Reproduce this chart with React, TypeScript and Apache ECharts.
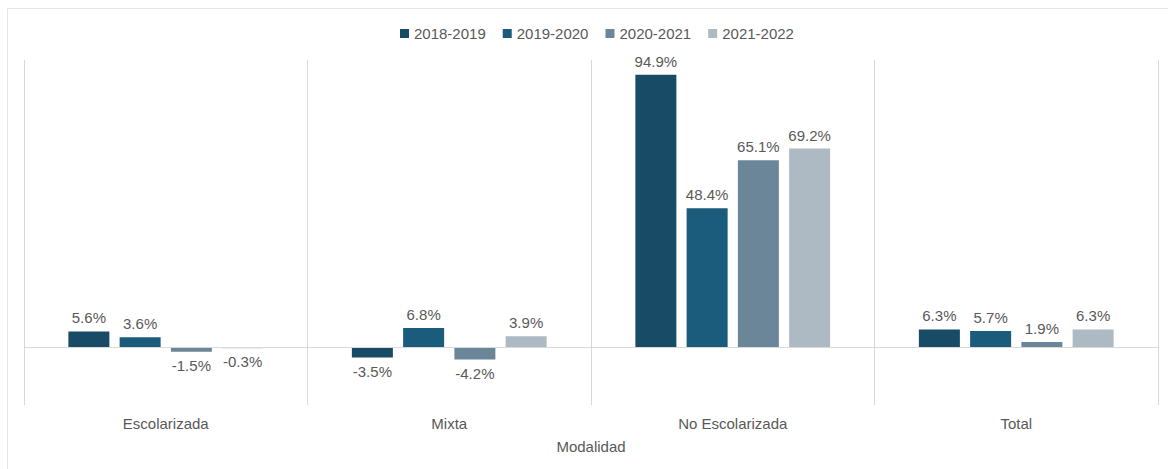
import React, { useEffect, useRef } from "react";
import * as echarts from "echarts";

const categories = ["Escolarizada", "Mixta", "No Escolarizada", "Total"];
const seriesNames = ["2018-2019", "2019-2020", "2020-2021", "2021-2022"];
const v2018 = [5.6, -3.5, 94.9, 6.3];
const v2019 = [3.6, 6.8, 48.4, 5.7];
const v2020 = [-1.5, -4.2, 65.1, 1.9];
const v2021 = [-0.3, 3.9, 69.2, 6.3];
const colors = ["#174B66", "#1B5B7B", "#6C8699", "#ADB9C3"];

const FONT = "'Liberation Sans', Arial, sans-serif";
const TXT = "#595959";

export default function App() {
  const ref = useRef<HTMLDivElement>(null);
  useEffect(() => {
    if (!ref.current) return;
    const chart = echarts.init(ref.current, null, { renderer: "svg" });
    const all = [v2018, v2019, v2020, v2021];
    const series: any[] = all.map((vals, i) => ({
      name: seriesNames[i],
      type: "bar",
      barWidth: 41,
      barGap: "25%",
      itemStyle: { color: colors[i] },
      data: vals.map((v) => ({
        value: v,
        label: { position: v >= 0 ? "top" : "bottom" },
      })),
      label: {
        show: true,
        formatter: (p: any) => p.value.toFixed(1) + "%",
        color: TXT,
        fontSize: 15,
        fontFamily: FONT,
        distance: 6,
      },
      markLine:
        i === 0
          ? {
              silent: true,
              symbol: "none",
              label: { show: false },
              lineStyle: { color: "#d9d9d9", type: "solid", width: 1 },
              data: [{ yAxis: 0 }],
            }
          : undefined,
    }));
    chart.setOption({
      animation: false,
      textStyle: { fontFamily: FONT },
      legend: {
        top: 21,
        left: 395,
        icon: "rect",
        itemWidth: 9,
        itemHeight: 9,
        itemGap: 17,
        textStyle: { color: TXT, fontSize: 15, fontFamily: FONT },
        data: seriesNames,
      },
      grid: { left: 24, right: 10, top: 60, bottom: 64 },
      xAxis: {
        type: "category",
        data: categories,
        axisLine: { show: false, onZero: false },
        axisTick: { show: false },
        axisLabel: { color: TXT, fontSize: 15, fontFamily: FONT, margin: 11 },
        splitLine: { show: true, lineStyle: { color: "#d9d9d9", width: 1 } },
        name: "Modalidad",
        nameLocation: "middle",
        nameGap: 34,
        nameTextStyle: { color: TXT, fontSize: 15, fontFamily: FONT },
      },
      yAxis: {
        type: "value",
        min: -20,
        max: 100,
        interval: 20,
        show: false,
        splitLine: { show: false },
      },
      graphic: [
        {
          type: "line",
          shape: { x1: 7.5, y1: 8.5, x2: 1168, y2: 8.5 },
          style: { stroke: "#e6e6e6", lineWidth: 1 },
        },
        {
          type: "line",
          shape: { x1: 7.5, y1: 8.5, x2: 7.5, y2: 469 },
          style: { stroke: "#e6e6e6", lineWidth: 1 },
        },
      ],
      series,
    });
    return () => chart.dispose();
  }, []);
  return (
    <div
      ref={ref}
      style={{ position: "absolute", left: 0, top: 0, width: 1168, height: 469, background: "#fff" }}
    />
  );
}
